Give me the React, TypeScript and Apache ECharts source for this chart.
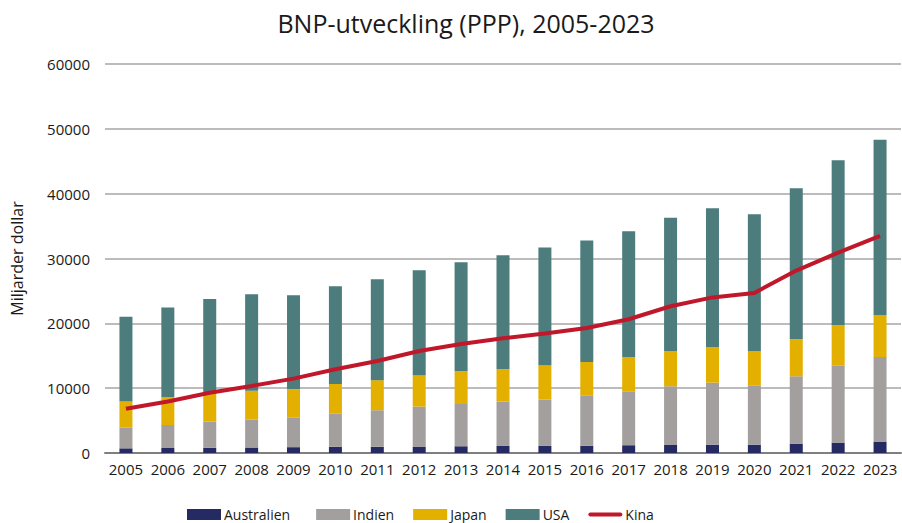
import React, { useEffect, useRef } from "react";
import * as echarts from "echarts";

const years = ["2005","2006","2007","2008","2009","2010","2011","2012","2013","2014","2015","2016","2017","2018","2019","2020","2021","2022","2023"];
const australien = [720, 770, 820, 850, 900, 950, 960, 990, 1040, 1090, 1090, 1100, 1200, 1230, 1290, 1290, 1440, 1600, 1710];
const indien = [3180, 3550, 4010, 4320, 4600, 5100, 5640, 6170, 6520, 6830, 7140, 7800, 8320, 9060, 9560, 9150, 10390, 11880, 13100];
const japan = [4100, 4320, 4380, 4430, 4320, 4590, 4630, 4780, 5040, 4990, 5250, 5150, 5290, 5450, 5510, 5300, 5710, 6220, 6490];
const usa = [13000, 13790, 14560, 14870, 14500, 15070, 15580, 16260, 16830, 17590, 18210, 18720, 19400, 20530, 21400, 21090, 23300, 25460, 27000];
const kina = [6840, 7950, 9300, 10340, 11470, 12910, 14200, 15740, 16820, 17700, 18420, 19290, 20630, 22630, 24000, 24690, 28140, 30910, 33490];
const yTicks = [0, 10000, 20000, 30000, 40000, 50000, 60000];

const FONT = "'Open Sans', 'Liberation Sans', sans-serif";
const LINE_ICON = "path://M2,0 L32,0 A2,2 0 0 1 32,4 L2,4 A2,2 0 0 1 2,0 Z";

export default function App() {
  const ref = useRef<HTMLDivElement>(null);
  useEffect(() => {
    if (!ref.current) return;
    const chart = echarts.init(ref.current, null, { renderer: "svg" });
    const barBase = { type: "bar", stack: "total", barWidth: 13 };
    chart.setOption({
      animation: false,
      backgroundColor: "#ffffff",
      textStyle: { fontFamily: FONT },
      title: {
        text: "BNP-utveckling (PPP), 2005-2023",
        left: 461,
        textAlign: "center",
        top: 5,
        textStyle: { fontFamily: FONT, fontSize: 25, fontWeight: "normal", color: "#1a1a1a" },
      },
      legend: {
        top: 506,
        left: 187,
        padding: 0,
        itemWidth: 34,
        itemHeight: 11,
        itemGap: 19,
        textStyle: { fontFamily: FONT, fontSize: 14, lineHeight: 17, color: "#1a1a1a", padding: [0, 0, 0, -2] },
        data: [
          { name: "Australien", icon: "rect", textStyle: { padding: [0, 7, 0, -2] } },
          { name: "Indien", icon: "rect" },
          { name: "Japan", icon: "rect" },
          { name: "USA", icon: "rect" },
          { name: "Kina", icon: LINE_ICON, itemStyle: { color: "#c0182a" } },
        ],
      },
      grid: { left: 105, right: 1, top: 64, bottom: 70 },
      xAxis: {
        type: "category",
        data: years,
        axisTick: { show: false },
        axisLine: { lineStyle: { color: "#7f7f7f", width: 2 } },
        axisLabel: { fontFamily: FONT, fontSize: 15, color: "#1a1a1a", margin: 8, interval: 0 },
      },
      yAxis: {
        type: "value",
        min: yTicks[0],
        max: yTicks[yTicks.length - 1],
        interval: 10000,
        name: "Miljarder dollar",
        nameLocation: "middle",
        nameGap: 80,
        nameTextStyle: { fontFamily: FONT, fontSize: 16, color: "#1a1a1a" },
        axisLabel: {
          fontFamily: FONT,
          fontSize: 15,
          color: "#1a1a1a",
          margin: 15,
          formatter: (v: number) => String(v),
        },
        splitLine: { lineStyle: { color: "#a6a6a6", width: 1.5 } },
      },
      series: [
        { ...barBase, name: "Australien", data: australien, itemStyle: { color: "#262a62" } },
        { ...barBase, name: "Indien", data: indien, itemStyle: { color: "#a39f9e" } },
        { ...barBase, name: "Japan", data: japan, itemStyle: { color: "#e3b000" } },
        { ...barBase, name: "USA", data: usa, itemStyle: { color: "#4d7c7c" } },
        {
          type: "line",
          name: "Kina",
          data: kina,
          symbol: "none",
          lineStyle: { color: "#c0182a", width: 4 },
          itemStyle: { color: "#c0182a" },
        },
      ],
    });
    return () => chart.dispose();
  }, []);
  return <div ref={ref} style={{ position: "fixed", left: 0, top: 0, width: 902, height: 523 }} />;
}
